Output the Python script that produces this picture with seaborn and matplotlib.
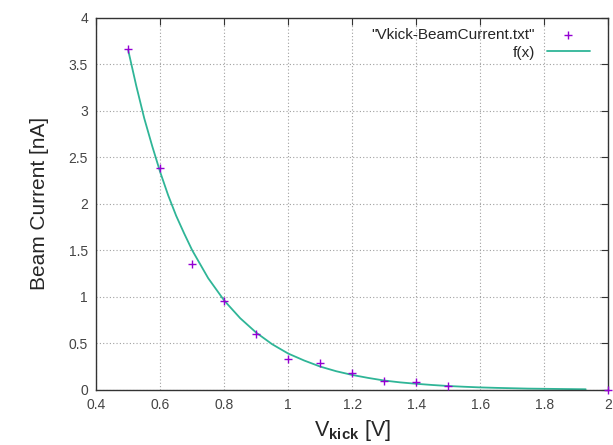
import numpy as np
import pandas as pd
import matplotlib
matplotlib.use('Agg')
import matplotlib.pyplot as plt
import seaborn as sns

# measured points
vkick = [0.5, 0.6, 0.7, 0.8, 0.9, 1.0, 1.1, 1.2, 1.3, 1.4, 1.5, 2.0]
current = [3.66, 2.38, 1.35, 0.96, 0.60, 0.33, 0.29, 0.186, 0.10, 0.083, 0.046, 0.0]

# fitted curve f(x)
fit_x = [0.50, 0.525, 0.55, 0.575, 0.60, 0.625, 0.65, 0.675, 0.70, 0.75, 0.80, 0.85, 0.90, 0.95,
         1.00, 1.05, 1.10, 1.15, 1.20, 1.25, 1.30, 1.35, 1.40, 1.45,
         1.50, 1.55, 1.60, 1.65, 1.70, 1.75, 1.80, 1.85, 1.90, 1.93]
fit_y = [3.65, 3.27, 2.92, 2.62, 2.34, 2.09, 1.87, 1.68, 1.50, 1.20, 0.96, 0.77, 0.615, 0.49,
         0.39, 0.315, 0.25, 0.20, 0.16, 0.128, 0.10, 0.08, 0.065, 0.052,
         0.041, 0.033, 0.026, 0.021, 0.017, 0.013, 0.011, 0.009, 0.007, 0.006]

x_ticks = [0.4, 0.6, 0.8, 1.0, 1.2, 1.4, 1.6, 1.8, 2.0]
y_ticks = [0, 0.5, 1, 1.5, 2, 2.5, 3, 3.5, 4]

pts = pd.DataFrame({'x': vkick, 'y': current})
fit = pd.DataFrame({'x': fit_x, 'y': fit_y})

sns.set_style('white')
plt.rcParams['font.family'] = ['Liberation Sans', 'DejaVu Sans']
plt.rcParams['mathtext.fontset'] = 'custom'
plt.rcParams['mathtext.rm'] = 'Liberation Sans'
plt.rcParams['mathtext.it'] = 'Liberation Sans'
plt.rcParams['mathtext.bf'] = 'Liberation Sans:bold'

fig = plt.figure(figsize=(6.13, 4.45), dpi=100)
ax = fig.add_axes([0.157, 0.124, 0.835, 0.836])

sns.scatterplot(x='x', y='y', data=pts, ax=ax, marker='+', color='#9400d3',
                s=30, linewidth=1.0, label='"Vkick-BeamCurrent.txt"', zorder=3,
                clip_on=False)
sns.lineplot(x='x', y='y', data=fit, ax=ax, color='#2fb597', linewidth=1.3,
             label='f(x)', zorder=2)

ax.set_xlim(0.4, 2.0)
ax.set_ylim(0, 4)
ax.set_xticks(x_ticks)
ax.set_yticks(y_ticks)
ax.set_xticklabels(['%g' % v for v in x_ticks])
ax.set_yticklabels(['%g' % v for v in y_ticks])
ax.tick_params(axis='both', direction='in', length=5, width=0.8, colors='#333333',
               labelcolor='#444444', labelsize=10, top=True, right=True, pad=6)
ax.grid(True, linestyle=(0, (1, 2)), color='#a0a0a0', linewidth=0.8)
for sp in ax.spines.values():
    sp.set_color('#333333')
    sp.set_linewidth(1.0)

ax.set_xlabel(r'$\mathrm{V}_{\mathbf{kick}}$ [V]', fontsize=15.5, labelpad=4)
ax.set_ylabel('Beam Current [nA]', fontsize=15, labelpad=14)

ax.legend(loc='upper right', frameon=False, markerfirst=False, fontsize=11,
          handlelength=2.8, borderaxespad=0.3, labelspacing=0.2,
          bbox_to_anchor=(0.985, 1.0))

plt.savefig('out.png', dpi=100)
